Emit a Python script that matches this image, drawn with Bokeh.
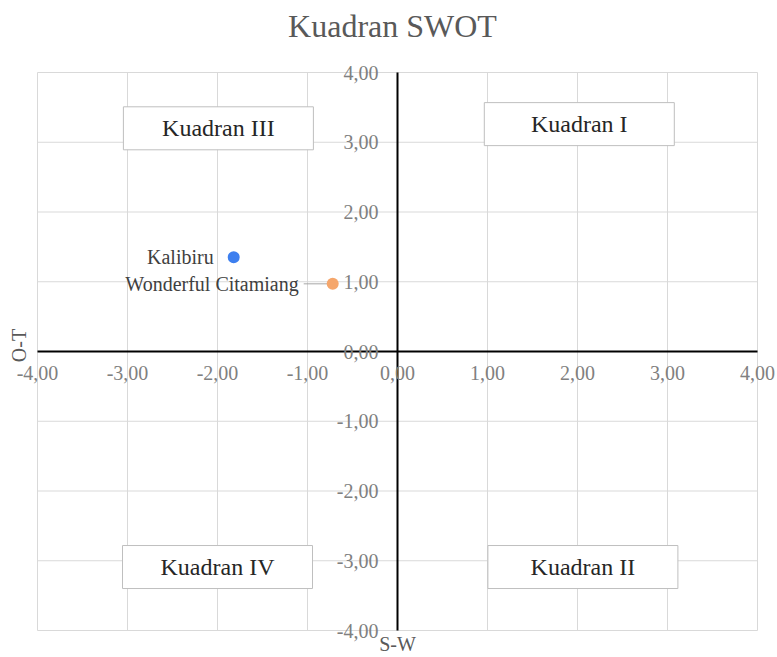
import math
from bokeh.plotting import figure
from bokeh.models import ColumnDataSource, Range1d, LabelSet, Label
from bokeh.embed import file_html
from bokeh.resources import INLINE
from bokeh.core.properties import value

# ---- data ----
names = ["Kalibiru", "Wonderful Citamiang"]
sw = [-1.82, -0.72]
ot = [1.35, 0.97]
colors = ["#3d7fef", "#f5a66b"]
label_dx = [-20, -34]

ticks = [-4, -3, -2, -1, 0, 1, 2, 3, 4]
tick_labels = ["-4,00", "-3,00", "-2,00", "-1,00", "0,00", "1,00", "2,00", "3,00", "4,00"]

quad_names = ["Kuadran I", "Kuadran II", "Kuadran III", "Kuadran IV"]
quad_x = [2.02, 2.06, -1.99, -2.0]
quad_y = [3.26, -3.09, 3.20, -3.09]

title_text = "Kuadran SWOT"
x_title = "S-W"
y_title = "O-T"

FONT = "Liberation Serif"

# ---- layout (pixels) ----
W, H = 776, 656
FL, FR, FT, FB = 37, 757, 72, 630   # pixel box of the plotting area
lo, hi = ticks[0], ticks[-1]
xs = (FR - FL) / (hi - lo)
ys = (FB - FT) / (hi - lo)
x_range = Range1d(lo - FL / xs, hi + (W - FR) / xs)
y_range = Range1d(lo - (H - FB) / ys, hi + FT / ys)

p = figure(width=W, height=H, x_range=x_range, y_range=y_range,
           x_axis_location=None, y_axis_location=None,
           output_backend="svg", toolbar_location=None, min_border=0,
           background_fill_color="white", border_fill_color="white",
           outline_line_color=None)
p.title.visible = False
p.grid.visible = False

n = len(ticks)
# gridlines
p.segment(x0=ticks, y0=[lo] * n, x1=ticks, y1=[hi] * n, line_color="#d9d9d9", line_width=1)
p.segment(x0=[lo] * n, y0=ticks, x1=[hi] * n, y1=ticks, line_color="#d9d9d9", line_width=1)
# central axes
p.segment(x0=[lo, 0], y0=[0, lo], x1=[hi, 0], y1=[0, hi], line_color="black", line_width=2)

# tick labels
zeros = [0] * n
xl = ColumnDataSource(dict(x=ticks, y=zeros, t=tick_labels))
yl = ColumnDataSource(dict(x=zeros, y=ticks, t=tick_labels))
p.add_layout(LabelSet(x="x", y="y", text="t", source=xl, y_offset=-14,
                      text_align="center", text_baseline="top", text_font=FONT,
                      text_font_size="20px", text_color="#808080"))
p.add_layout(LabelSet(x="x", y="y", text="t", source=yl, x_offset=-19,
                      text_align="right", text_baseline="middle", text_font=FONT,
                      text_font_size="20px", text_color="#808080"))

# titles
p.add_layout(Label(x=392, y=H - 25, x_units="screen", y_units="screen", text=title_text,
                   text_align="center", text_baseline="middle", text_font=FONT,
                   text_font_size="32px", text_color="#595959"))
p.add_layout(Label(x=397, y=13, x_units="screen", y_units="screen", text=x_title,
                   text_align="center", text_baseline="middle", text_font=FONT,
                   text_font_size="20px", text_color="#595959"))
p.add_layout(Label(x=18, y=H - 345, x_units="screen", y_units="screen", text=y_title,
                   angle=math.pi / 2, text_align="center", text_baseline="middle",
                   text_font=FONT, text_font_size="20px", text_color="#595959"))

# quadrant boxes
qsrc = ColumnDataSource(dict(x=quad_x, y=quad_y, t=quad_names))
p.rect(x="x", y="y", width=190, height=43, width_units="screen", height_units="screen",
       fill_color="white", line_color="#bfbfbf", line_width=1, source=qsrc)
p.text(x="x", y="y", text="t", text_align="center", text_baseline="middle",
       text_font=value(FONT), text_font_size="24px", text_color="#262626", source=qsrc)

# points
src = ColumnDataSource(dict(sw=sw, ot=ot, c=colors, n=names, dx=label_dx))
p.ray(x=[sw[1]], y=[ot[1]], length=29, angle=math.pi, length_units="screen",
      line_color="#a6a6a6", line_width=1)
p.scatter(x="sw", y="ot", size=12, fill_color="c", line_color=None, source=src)
p.text(x="sw", y="ot", text="n", x_offset="dx", text_align="right", text_baseline="middle",
       text_font=value(FONT), text_font_size="20px", text_color="#404040", source=src)

open("out.html", "w").write(file_html(p, INLINE))
